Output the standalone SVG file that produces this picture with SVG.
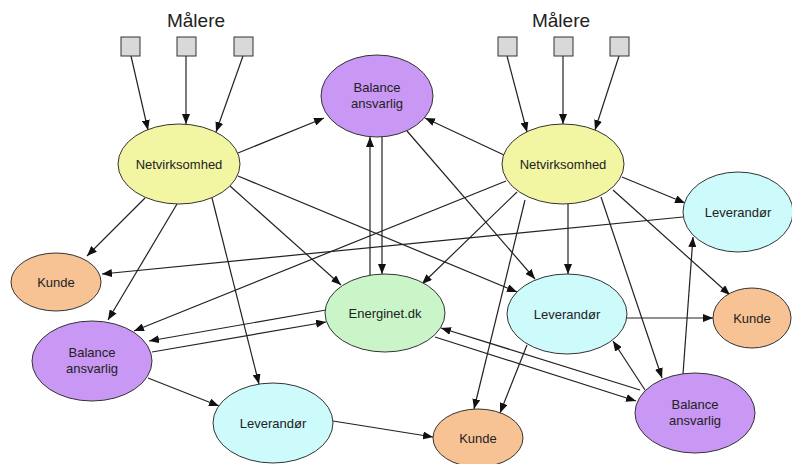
<svg xmlns="http://www.w3.org/2000/svg" width="792" height="464" viewBox="0 0 792 464">
<defs>
<marker id="ah" viewBox="0 0 10 8" refX="10" refY="4" markerWidth="10" markerHeight="8" markerUnits="userSpaceOnUse" orient="auto">
<path d="M0,0 L10,4 L0,8 Z" fill="#111"/>
</marker>
</defs>
<style>
text{font-family:"Liberation Sans",Arial,sans-serif;fill:#222;text-anchor:middle}
.lbl{font-size:13px}
.title{font-size:19px}
.e{stroke:#333;stroke-width:1}
.net{fill:#f2f5a2}
.kun{fill:#f8c394}
.bal{fill:#c997f4}
.lev{fill:#cdfafa}
.eng{fill:#caf5c8}
.sq{fill:#d9d9d9;stroke:#333;stroke-width:1}
#edges line{stroke:#222;stroke-width:1.2;marker-end:url(#ah)}
</style>
<rect width="792" height="464" fill="#fff"/>
<g id="edges">
<line x1="131" y1="56" x2="148" y2="130"/>
<line x1="186" y1="56" x2="186" y2="124"/>
<line x1="243" y1="56" x2="216" y2="132"/>
<line x1="507" y1="56" x2="527" y2="132"/>
<line x1="563" y1="56" x2="563" y2="124"/>
<line x1="619" y1="56" x2="595" y2="130"/>
<line x1="238" y1="153" x2="324" y2="118"/>
<line x1="145" y1="198" x2="87" y2="256"/>
<line x1="177" y1="204" x2="108" y2="320"/>
<line x1="212" y1="198" x2="259" y2="384"/>
<line x1="230" y1="186" x2="341" y2="285"/>
<line x1="238" y1="176" x2="517" y2="292"/>
<line x1="683" y1="217" x2="102" y2="274"/>
<line x1="506" y1="181" x2="134" y2="331"/>
<line x1="326" y1="310" x2="149" y2="341"/>
<line x1="152" y1="352" x2="326" y2="322"/>
<line x1="370" y1="275" x2="370" y2="137"/>
<line x1="382" y1="137" x2="382" y2="274"/>
<line x1="407" y1="131" x2="535" y2="279"/>
<line x1="504" y1="155" x2="425" y2="118"/>
<line x1="517" y1="192" x2="422" y2="284"/>
<line x1="568" y1="204" x2="568" y2="274"/>
<line x1="622" y1="177" x2="685" y2="203"/>
<line x1="613" y1="190" x2="730" y2="295"/>
<line x1="601" y1="197" x2="662" y2="378"/>
<line x1="525" y1="200" x2="474" y2="409"/>
<line x1="527" y1="345" x2="500" y2="413"/>
<line x1="627" y1="318" x2="713" y2="318"/>
<line x1="645" y1="390" x2="613" y2="341"/>
<line x1="683" y1="374" x2="693" y2="237"/>
<line x1="640" y1="390" x2="441" y2="328"/>
<line x1="435" y1="337" x2="636" y2="401"/>
<line x1="148" y1="378" x2="219" y2="406"/>
<line x1="333" y1="421" x2="433" y2="437"/>
</g>
<g id="malere-left">
<text class="title" x="196" y="27">Målere</text>
<rect class="sq" x="121" y="37" width="19" height="19"/>
<rect class="sq" x="177" y="37" width="19" height="19"/>
<rect class="sq" x="234" y="37" width="19" height="19"/>
</g>
<g id="malere-right">
<text class="title" x="561" y="27">Målere</text>
<rect class="sq" x="498" y="37" width="19" height="19"/>
<rect class="sq" x="554" y="37" width="19" height="19"/>
<rect class="sq" x="610" y="37" width="19" height="19"/>
</g>
<g id="net-left">
<ellipse class="e net" cx="179" cy="164" rx="61" ry="40"/>
<text class="lbl" x="179" y="169">Netvirksomhed</text>
</g>
<g id="net-right">
<ellipse class="e net" cx="563" cy="164" rx="61" ry="40"/>
<text class="lbl" x="563" y="169">Netvirksomhed</text>
</g>
<g id="bal-top">
<ellipse class="e bal" cx="377" cy="96" rx="56" ry="41"/>
<text class="lbl" x="377" y="92">Balance</text>
<text class="lbl" x="377" y="108">ansvarlig</text>
</g>
<g id="kunde-left">
<ellipse class="e kun" cx="56" cy="282" rx="45" ry="29"/>
<text class="lbl" x="56" y="287">Kunde</text>
</g>
<g id="lev-righttop">
<ellipse class="e lev" cx="738" cy="212" rx="55" ry="40"/>
<text class="lbl" x="738" y="217">Leverandør</text>
</g>
<g id="energinet">
<ellipse class="e eng" cx="385" cy="313" rx="60" ry="39"/>
<text class="lbl" x="385" y="318">Energinet.dk</text>
</g>
<g id="lev-mid">
<ellipse class="e lev" cx="567" cy="314" rx="60" ry="40"/>
<text class="lbl" x="567" y="319">Leverandør</text>
</g>
<g id="kunde-right">
<ellipse class="e kun" cx="752" cy="318" rx="39" ry="30"/>
<text class="lbl" x="752" y="323">Kunde</text>
</g>
<g id="bal-left">
<ellipse class="e bal" cx="92" cy="361" rx="60" ry="40"/>
<text class="lbl" x="92" y="357">Balance</text>
<text class="lbl" x="92" y="373">ansvarlig</text>
</g>
<g id="lev-bottom">
<ellipse class="e lev" cx="273" cy="423" rx="60" ry="40"/>
<text class="lbl" x="273" y="428">Leverandør</text>
</g>
<g id="kunde-bottom">
<ellipse class="e kun" cx="478" cy="438" rx="45" ry="29"/>
<text class="lbl" x="478" y="443">Kunde</text>
</g>
<g id="bal-bottom">
<ellipse class="e bal" cx="695" cy="413" rx="60" ry="40"/>
<text class="lbl" x="695" y="409">Balance</text>
<text class="lbl" x="695" y="425">ansvarlig</text>
</g>
</svg>
